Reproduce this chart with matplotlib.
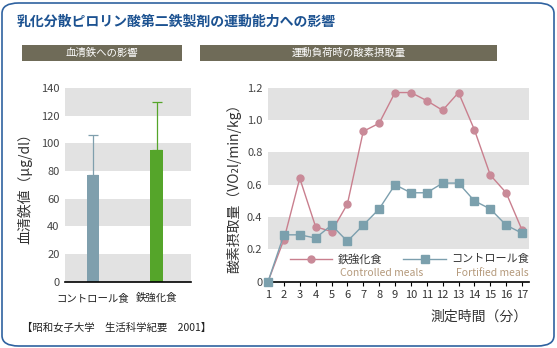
import matplotlib
matplotlib.use("Agg")
import matplotlib.pyplot as plt
from matplotlib.patches import FancyBboxPatch, Rectangle
import numpy as np

plt.rcParams['font.family'] = ['Noto Sans CJK JP', 'DejaVu Sans']

# data
bar_labels = ["コントロール食", "鉄強化食"]
bar_values = [77, 95]
bar_err_up = [29, 35]
bar_colors = ["#7f9fad", "#55a52a"]

minutes = list(range(1, 18))
iron_vo2 = [0, 0.26, 0.64, 0.34, 0.31, 0.48, 0.93, 0.98, 1.17, 1.17,
            1.12, 1.06, 1.17, 0.94, 0.66, 0.55, 0.32]
control_vo2 = [0, 0.29, 0.29, 0.27, 0.35, 0.25, 0.35, 0.45, 0.60, 0.55,
               0.55, 0.61, 0.61, 0.50, 0.45, 0.35, 0.30]

W, H = 557, 348
fig = plt.figure(figsize=(W / 100, H / 100), dpi=100)


def box(x0, y0, x1, y1):
    # pixel box (top-left origin) -> figure fraction rect
    return [x0 / W, 1 - y1 / H, (x1 - x0) / W, (y1 - y0) / H]


# outer frame
fig.patches.append(FancyBboxPatch((2 / W, 2 / H), (W - 5) / W, (H - 5) / H,
                                  boxstyle="round,pad=0,rounding_size=0.03",
                                  transform=fig.transFigure, fill=False,
                                  edgecolor="#2f62a0", linewidth=1.2))

fig.text(17 / W, 1 - 22 / H, "乳化分散ピロリン酸第二鉄製剤の運動能力への影響",
         fontsize=10, fontweight="bold", color="#1c5291", va="center")

# section headers
for (x0, x1), txt in [((22, 182), "血清鉄への影響"), ((200, 497), "運動負荷時の酸素摂取量")]:
    fig.patches.append(Rectangle((x0 / W, 1 - 61 / H), (x1 - x0) / W, 16 / H,
                                 transform=fig.transFigure, facecolor="#6f6b58",
                                 edgecolor="none"))
    fig.text((x0 + x1) / 2 / W, 1 - 53 / H, txt, fontsize=7.5, color="white",
             ha="center", va="center")

band_color = "#e2e2e2"
tick_color = "#444444"

# left: serum iron
ax1 = fig.add_axes(box(65, 88, 191, 281.7))
for lo in [0, 40, 80, 120]:
    ax1.axhspan(lo, lo + 20, color=band_color, zorder=0, linewidth=0)
xpos = np.arange(len(bar_labels))
ax1.bar(xpos, bar_values, width=0.19, color=bar_colors, zorder=2)
for x, v, e, c in zip(xpos, bar_values, bar_err_up, bar_colors):
    ax1.errorbar(x, v, yerr=[[0], [e]], color=c, capsize=3.5, elinewidth=0.9,
                 capthick=0.9, zorder=3)
ax1.set_xlim(-0.441, 1.543)
ax1.set_ylim(0, 140)
ax1.set_yticks(range(0, 141, 20))
ax1.set_xticks(xpos)
ax1.set_xticklabels(bar_labels, fontsize=7.5, color="#222222")
ax1.tick_params(axis="x", length=0, pad=8)
ax1.tick_params(axis="y", length=0, pad=4, labelsize=8, labelcolor=tick_color)
for s in ["left", "right", "top"]:
    ax1.spines[s].set_visible(False)
ax1.spines["bottom"].set_color("black")
ax1.spines["bottom"].set_linewidth(1.2)
ax1.set_ylabel("血清鉄値（μg/dl）", fontsize=10, color="#333333", labelpad=6)

# right: oxygen uptake
ax2 = fig.add_axes(box(268, 87.7, 529, 281.7))
for lo in [0.2, 0.6, 1.0]:
    ax2.axhspan(lo, lo + 0.2, color=band_color, zorder=0, linewidth=0)
l_iron, = ax2.plot(minutes, iron_vo2, color="#c97f8e", linewidth=1,
                   marker="o", markersize=5, markerfacecolor="#c98a98",
                   markeredgecolor="#c98a98", zorder=3, clip_on=False)
l_ctrl, = ax2.plot(minutes, control_vo2, color="#7c9fae", linewidth=1,
                   marker="s", markersize=5.5, markerfacecolor="#7ba0ad",
                   markeredgecolor="#7ba0ad", zorder=3, clip_on=False)
ax2.set_xlim(1, 17.44)
ax2.set_ylim(0, 1.2)
ax2.set_xticks(minutes)
ax2.set_yticks([0, 0.2, 0.4, 0.6, 0.8, 1.0, 1.2])
ax2.set_yticklabels(["0", "0.2", "0.4", "0.6", "0.8", "1.0", "1.2"])
ax2.tick_params(axis="x", length=3, width=0.8, direction="out", pad=3,
                labelsize=8, labelcolor="#333333")
ax2.tick_params(axis="y", length=0, pad=4, labelsize=8, labelcolor=tick_color)
for s in ["left", "right", "top"]:
    ax2.spines[s].set_visible(False)
ax2.spines["bottom"].set_linewidth(1.2)
ax2.set_ylabel("酸素摂取量（VO₂l/min/kg）", fontsize=10, color="#333333", labelpad=4)

leg = ax2.legend([l_iron, l_ctrl], ["鉄強化食", "コントロール食"], ncol=2,
                 frameon=False, fontsize=8, handlelength=3.8, handletextpad=0.5,
                 columnspacing=1.9, loc="center left",
                 bbox_to_anchor=(290 / W, 1 - 259 / H),
                 bbox_transform=fig.transFigure, borderaxespad=0, borderpad=0)
for t in leg.get_texts():
    t.set_color("#333333")
fig.text(340 / W, 1 - 273 / H, "Controlled meals", fontsize=7.5, color="#b59a7c", va="center")
fig.text(456 / W, 1 - 273 / H, "Fortified meals", fontsize=7.5, color="#b59a7c", va="center")

fig.text(528 / W, 1 - 317 / H, "測定時間（分）", fontsize=10, color="#333333",
         ha="right", va="center")
fig.text(22 / W, 1 - 328 / H, "【昭和女子大学　生活科学紀要　2001】", fontsize=7.5,
         color="#222222", va="center")

fig.savefig("out.png", dpi=100)
